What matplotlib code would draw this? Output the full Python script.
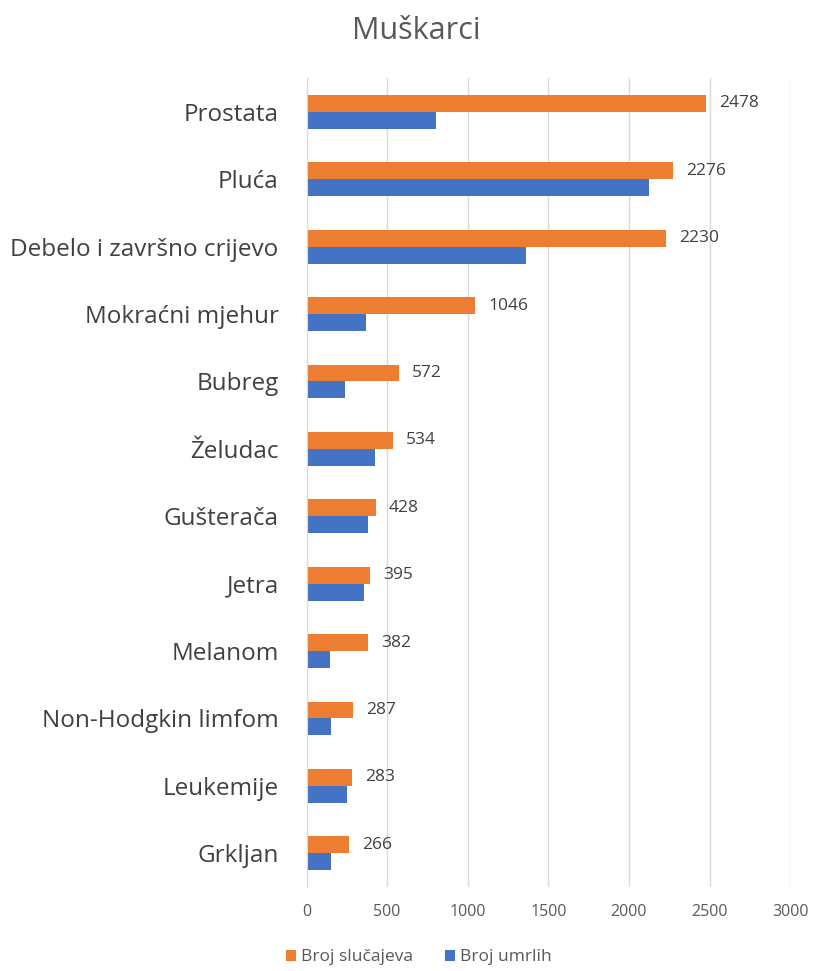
import matplotlib
matplotlib.use('agg')
import matplotlib.pyplot as plt
import numpy as np

categories = ['Prostata', 'Pluća', 'Debelo i završno crijevo', 'Mokraćni mjehur',
              'Bubreg', 'Želudac', 'Gušterača', 'Jetra', 'Melanom',
              'Non-Hodgkin limfom', 'Leukemije', 'Grkljan']
slucajevi = [2478, 2276, 2230, 1046, 572, 534, 428, 395, 382, 287, 283, 266]
umrli = [805, 2125, 1361, 370, 240, 426, 384, 359, 143, 153, 250, 153]
x_ticks = [0, 500, 1000, 1500, 2000, 2500, 3000]

plt.rcParams['font.family'] = ['Open Sans', 'DejaVu Sans']

fig = plt.figure(figsize=(8.13, 9.71), dpi=100)
ax = fig.add_axes([0.377, 0.0865, 0.595, 0.833])

y = np.arange(len(categories))
h = 0.25
ax.barh(y - h / 2, slucajevi, height=h, color='#ED7D31', label='Broj slučajeva')
ax.barh(y + h / 2, umrli, height=h, color='#4472C4', label='Broj umrlih')

for yi, v in zip(y, slucajevi):
    ax.text(v + 80, yi - h / 2, str(v), va='center', ha='left',
            fontsize=12.5, color='#404040')

ax.set_ylim(len(categories) - 0.5, -0.5)
ax.set_xlim(0, 3000)
ax.set_yticks(y)
ax.set_yticklabels(categories, fontsize=17.5, color='#404040')
ax.set_xticks(x_ticks)
ax.set_xticklabels([str(t) for t in x_ticks], fontsize=11.5, color='#595959')
ax.tick_params(axis='y', length=0, pad=20)
ax.tick_params(axis='x', length=0, pad=12)
ax.grid(axis='x', color='#D9D9D9', linewidth=1)
ax.set_axisbelow(True)
for s in ['top', 'right', 'bottom']:
    ax.spines[s].set_visible(False)
ax.spines['left'].set_color('#D9D9D9')

fig.text(0.512, 0.968, 'Muškarci', ha='center', va='center', fontsize=22,
         color='#595959')
fig.legend(loc='center', bbox_to_anchor=(0.515, 0.014), ncol=2, frameon=False,
           fontsize=12.5, handlelength=0.6, handleheight=0.6, handletextpad=0.3,
           columnspacing=1.8, labelcolor='#595959')

fig.savefig('out.png', dpi=100)
